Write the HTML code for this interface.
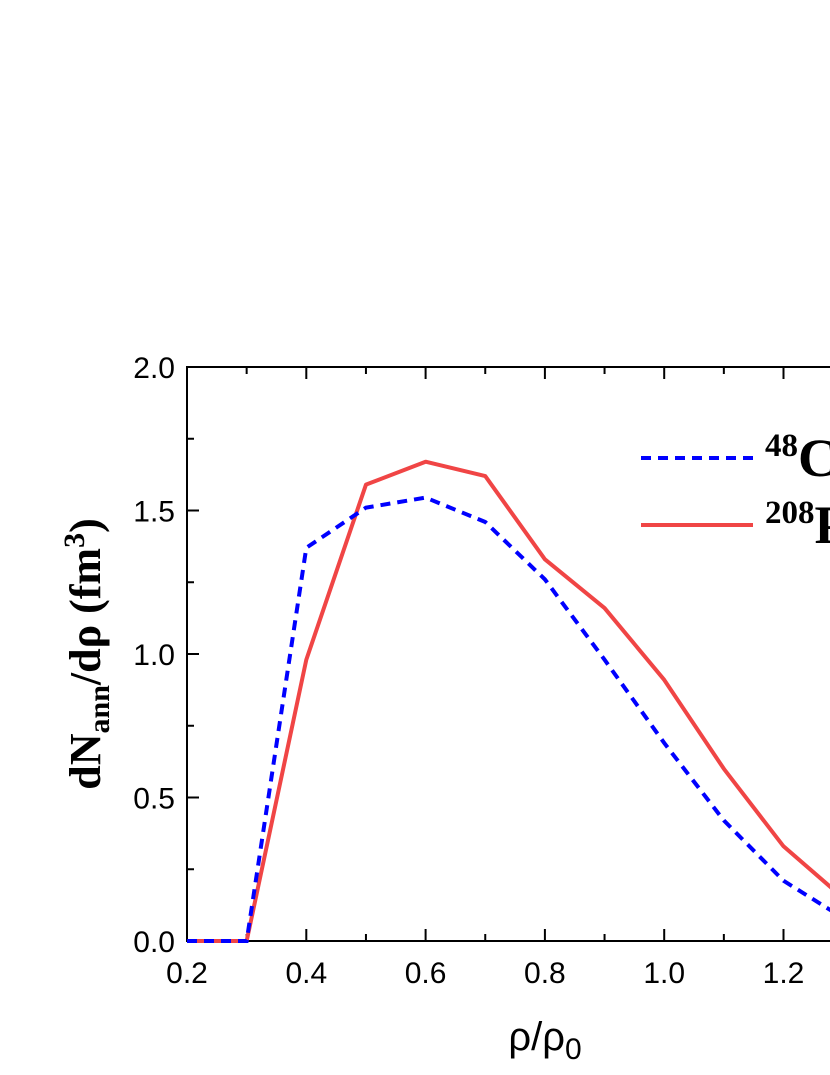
<!DOCTYPE html>
<html><head><meta charset="utf-8"><style>
body{margin:0;background:#fff}
svg{display:block}
</style></head><body>
<svg width="830" height="1075" viewBox="0 0 830 1075" xmlns="http://www.w3.org/2000/svg">
<rect x="187" y="367" width="800" height="574" fill="none" stroke="#000" stroke-width="2"/>
<g id="ticks"></g>
<g id="series"></g>
<g>
<line x1="641" y1="458" x2="753" y2="458" stroke="#00f" stroke-width="4" stroke-dasharray="10,7"/>
<text x="765" y="476" font-family="Liberation Serif" font-weight="bold" font-size="54"><tspan font-size="33" dy="-20">48</tspan><tspan dy="20">Ca</tspan></text>
<line x1="641" y1="525" x2="753" y2="525" stroke="#f04545" stroke-width="4"/>
<text x="765" y="543" font-family="Liberation Serif" font-weight="bold" font-size="54"><tspan font-size="33" dy="-20">208</tspan><tspan dy="20">Pb</tspan></text>
</g>
<text transform="translate(100,654) rotate(-90)" text-anchor="middle" font-family="Liberation Serif" font-weight="bold" font-size="44">dN<tspan font-size="30" dy="9">ann</tspan><tspan dy="-9">/dρ (fm</tspan><tspan font-size="30" dy="-16">3</tspan><tspan dy="16">)</tspan></text>
<text x="545" y="1050" text-anchor="middle" font-family="Liberation Sans" font-size="40">ρ/ρ<tspan font-size="30" dy="9">0</tspan></text>
</svg>
<script>
const xVals=[0.2,0.3,0.4,0.5,0.6,0.7,0.8,0.9,1.0,1.1,1.2,1.3,1.4];
const ca48=[0,0,1.37,1.51,1.545,1.46,1.26,0.98,0.69,0.42,0.21,0.08,0.02];
const pb208=[0,0,0.98,1.59,1.67,1.62,1.33,1.16,0.91,0.60,0.33,0.15,0.05];
const xTickLabels=["0.2","0.4","0.6","0.8","1.0","1.2"];
const yTickLabels=["0.0","0.5","1.0","1.5","2.0"];
const NS="http://www.w3.org/2000/svg";
const X=v=>187+(v-0.2)*596.5;
const Y=v=>941-v*287;
const ticks=document.getElementById('ticks');
function mk(tag,attrs,parent){const e=document.createElementNS(NS,tag);for(const k in attrs)e.setAttribute(k,attrs[k]);parent.appendChild(e);return e;}
for(let i=0;i<12;i++){const v=0.2+i*0.1;const major=i%2===0;
 const t=mk('line',{x1:X(v),x2:X(v),y1:941,y2:941-(major?12:7),stroke:'#000','stroke-width':2},ticks);
 
 
 const t2=mk('line',{x1:X(v),x2:X(v),y1:367,y2:367+(major?12:7),stroke:'#000','stroke-width':2},ticks);
 
 }
xTickLabels.forEach(s=>{const e=mk('text',{x:X(parseFloat(s)),y:983,'text-anchor':'middle','font-family':'Liberation Sans','font-size':30},ticks);e.textContent=s;
 
 });
for(let i=0;i<9;i++){const v=i*0.25;const major=i%2===0;
 const t=mk('line',{x1:187,x2:187+(major?12:7),y1:Y(v),y2:Y(v),stroke:'#000','stroke-width':2},ticks);
 
 }
yTickLabels.forEach(s=>{const e=mk('text',{x:175,y:Y(parseFloat(s))+11,'text-anchor':'end','font-family':'Liberation Sans','font-size':30},ticks);e.textContent=s;
 
 });
const ser=document.getElementById('series');
const pts=a=>a.map((v,i)=>X(xVals[i])+','+Y(v)).join(' ');
const p1=mk('polyline',{points:pts(pb208),fill:'none',stroke:'#f04545','stroke-width':4,'stroke-linejoin':'round'},ser);


const p2=mk('polyline',{points:pts(ca48),fill:'none',stroke:'#00f','stroke-width':4,'stroke-dasharray':'10,7'},ser);


</script>
</body></html>
